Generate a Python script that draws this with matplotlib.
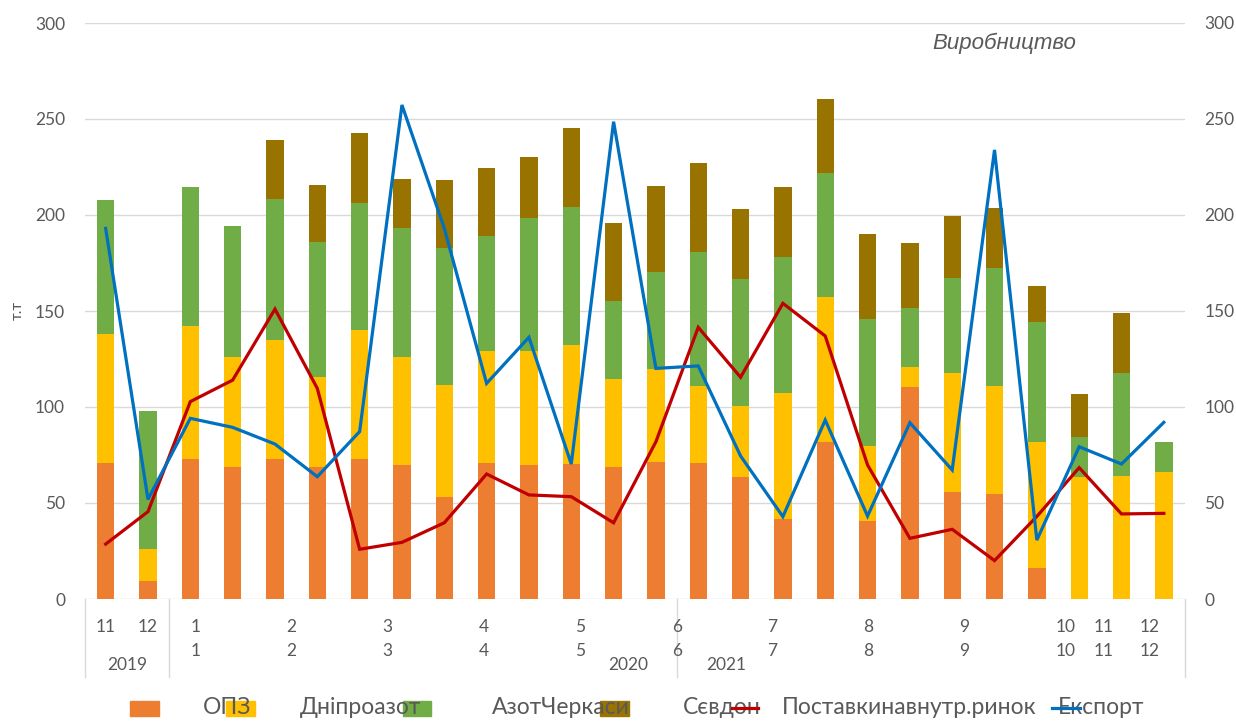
import matplotlib
matplotlib.use('Agg')
import matplotlib.pyplot as plt
import matplotlib.transforms as mtransforms
from matplotlib.patches import Rectangle
from matplotlib.lines import Line2D
import numpy as np

plt.rcParams['font.family'] = ['Lato', 'DejaVu Sans']

# ---------------- data ----------------
opz = [70.7, 9.5, 73.0, 68.6, 72.7, 68.6, 72.7, 70.0, 53.3, 71.0, 69.8, 70.1, 68.6,
       71.5, 70.7, 63.7, 41.7, 81.9, 40.6, 110.6, 55.9, 54.7, 16.3, 0, 0, 0]
dnipro = [67.3, 16.4, 69.2, 57.6, 62.2, 47.2, 67.4, 55.9, 58.3, 58.2, 59.4, 62.2, 46.0,
          48.3, 40.2, 36.8, 65.4, 75.2, 39.1, 10.4, 62.0, 56.2, 65.5, 63.7, 64.0, 66.3]
azot = [69.8, 71.8, 72.6, 68.1, 73.3, 70.2, 66.3, 67.3, 71.0, 59.9, 69.2, 72.0, 40.8,
        50.5, 69.8, 66.0, 70.9, 64.6, 66.1, 30.4, 49.1, 61.7, 62.6, 20.8, 53.9, 15.5]
sevdon = [0, 0, 0, 0, 30.8, 29.6, 36.5, 25.4, 35.6, 35.4, 31.6, 40.8, 40.3,
          44.8, 46.6, 36.5, 36.4, 38.5, 44.1, 33.9, 32.7, 31.2, 18.6, 22.1, 31.2, 0]
domestic = [28.6, 45.5, 102.8, 114.0, 151.0, 109.7, 25.9, 29.5, 39.7, 65.1, 54.2, 53.3, 39.7,
            81.9, 141.5, 115.5, 154.0, 137.0, 69.8, 31.6, 36.3, 20.0, 43.0, 68.4, 44.3, 44.6]
export = [193.0, 51.9, 94.1, 89.4, 80.7, 63.7, 87.2, 257.3, 193.1, 112.3, 136.3, 70.3, 248.6,
          120.1, 121.4, 74.5, 42.9, 93.2, 43.2, 91.8, 67.2, 233.9, 30.7, 79.3, 70.3, 92.0]

series_names = ['ОПЗ', 'Дніпроазот', 'АзотЧеркаси', 'Сєвдон',
                'Поставкинавнутр.ринок', 'Експорт']
month_row1 = ['11', '12', '1', '2', '3', '4', '5', '6', '7', '8', '9', '10', '11', '12']
month_row2 = ['', '', '1', '2', '3', '4', '5', '6', '7', '8', '9', '10', '11', '12']
years = ['2019', '2020', '2021']
y_unit = 'т.т'
title = 'Виробництво'

# ---------------- layout / style ----------------
W, H = 1236, 722
c_opz, c_dni, c_azot, c_sev = '#ED7D31', '#FFC000', '#70AD47', '#997300'
c_dom, c_exp = '#C00000', '#0070C0'
grey = '#595959'
grid_c = '#D9D9D9'

month_pos = [0, 1, 2.135, 4.38, 6.66, 8.93, 11.21, 13.5, 15.74, 18.01, 20.28, 22.67, 23.57, 24.66]
year_pos = [0.5, 12.35, 14.66]
dividers = [-0.5, 1.5, 13.5, 25.5]

fig = plt.figure(figsize=(W / 100, H / 100), dpi=100)
left, right = 84.5 / W, 1185 / W
bottom, top = 1 - 599 / H, 1 - 23 / H
ax = fig.add_axes([left, bottom, right - left, top - bottom])
ax2 = ax.twinx()

n = len(opz)
x = np.arange(n)
bw = 0.41
b1 = np.array(opz)
b2 = b1 + np.array(dnipro)
b3 = b2 + np.array(azot)
ax.bar(x, opz, bw, color=c_opz, zorder=2)
ax.bar(x, dnipro, bw, bottom=b1, color=c_dni, zorder=2)
ax.bar(x, azot, bw, bottom=b2, color=c_azot, zorder=2)
ax.bar(x, sevdon, bw, bottom=b3, color=c_sev, zorder=2)

ax2.plot(x, domestic, color=c_dom, lw=2.3, solid_joinstyle='miter', zorder=3)
ax2.plot(x, export, color=c_exp, lw=2.3, solid_joinstyle='miter', zorder=3)

for a in (ax, ax2):
    a.set_xlim(-0.5, n - 0.5)
    a.set_ylim(0, 300)
    a.set_yticks(np.arange(0, 301, 50))
    for s in a.spines.values():
        s.set_visible(False)
    a.tick_params(axis='y', length=0, pad=14, labelsize=12.5, labelcolor=grey)
    a.tick_params(axis='x', length=0, labelbottom=False)
ax.set_xticks([])
ax.yaxis.grid(True, color=grid_c, lw=1.0, zorder=0)
ax.set_axisbelow(True)

# category axis
trans = mtransforms.blended_transform_factory(ax.transData, ax.transAxes)
for d in dividers:
    ax.add_line(Line2D([d, d], [0, -78 / 576], transform=trans, color=grid_c,
                       lw=1.0, clip_on=False))
r1, r2, r3 = -27.7 / 576, -51.7 / 576, -66 / 576
for p, lab in zip(month_pos, month_row1):
    ax.text(p, r1, lab, transform=trans, ha='center', va='center', fontsize=12.5, color=grey)
for p, lab in zip(month_pos, month_row2):
    if lab:
        ax.text(p, r2, lab, transform=trans, ha='center', va='center', fontsize=12.5, color=grey)
for p, lab in zip(year_pos, years):
    ax.text(p, r3, lab, transform=trans, ha='center', va='center', fontsize=12.5, color=grey)

# y unit label and title
fig.text(18 / W, 1 - 310 / H, y_unit, rotation=90, ha='center', va='center',
         fontsize=11, color=grey)
fig.text(932 / W, 1 - 43 / H, title, ha='left', va='center', fontsize=16,
         style='italic', color=grey, family=['Liberation Sans', 'DejaVu Sans'])

# legend (manual, Excel-like overlapping layout)
ly = 1 - 708 / H
ph = 15 / H
for x0, x1, c in [(130, 159, c_opz), (226, 255, c_dni), (403, 431, c_azot), (600, 629, c_sev)]:
    fig.patches.append(Rectangle((x0 / W, ly - ph / 2), (x1 - x0) / W, ph,
                                 transform=fig.transFigure, color=c, zorder=1))
for x0, lab in zip([203, 300, 492, 683, 782, 1058], series_names):
    fig.text(x0 / W, ly, lab, ha='left', va='center', fontsize=16.5, color=grey, zorder=2)
for x0, x1, c in [(732, 758, c_dom), (1052, 1080, c_exp)]:
    fig.lines.append(Line2D([x0 / W, x1 / W], [ly, ly], transform=fig.transFigure,
                            color=c, lw=2.3, zorder=3))

fig.savefig('out.png', dpi=100)
